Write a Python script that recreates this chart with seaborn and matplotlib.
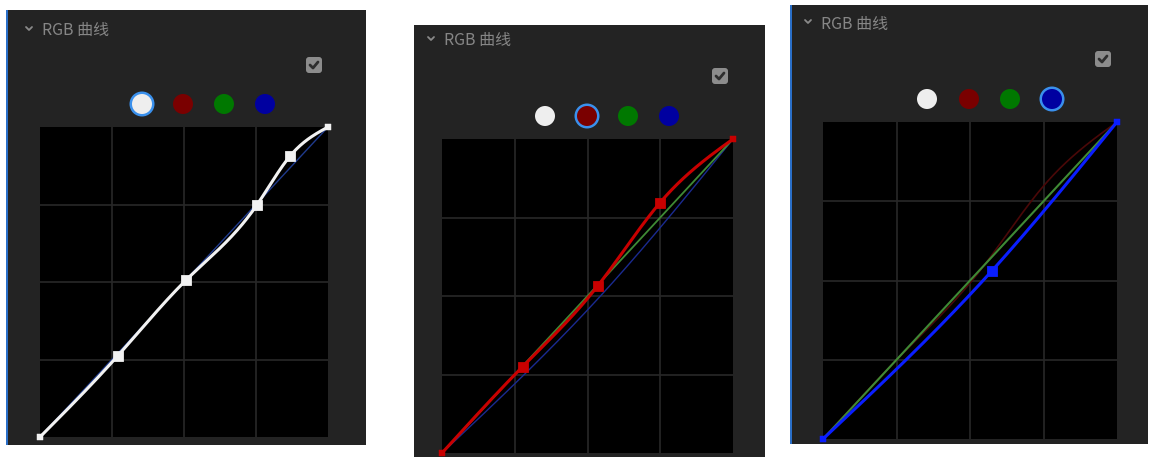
import numpy as np
import pandas as pd
import matplotlib
matplotlib.use("Agg")
import matplotlib.pyplot as plt
from matplotlib.patches import Rectangle, FancyBboxPatch, Circle
import seaborn as sns

# Puntos de control de cada curva (0..1)
master_x = [0.0, 0.270, 0.507, 0.752, 0.868, 1.0]
master_y = [0.0, 0.262, 0.506, 0.747, 0.906, 1.0]
red_x = [0.0, 0.277, 0.535, 0.749, 1.0]
red_y = [0.0, 0.275, 0.532, 0.797, 1.0]
green_x = [0.0, 1.0]
green_y = [0.0, 1.0]
blue_x = [0.0, 0.574, 1.0]
blue_y = [0.0, 0.530, 1.0]

titulo = "RGB 曲线"
colores_canal = ["#eeeeee", "#7a0000", "#007800", "#0000a0"]

sns.set_theme(style="dark")
plt.rcParams['font.family'] = ['Noto Sans CJK SC', 'DejaVu Sans']

W, H = 1150, 457


def spline(xs, ys, n=300):
    # spline cubico natural por los puntos de control
    xs = np.asarray(xs, float)
    ys = np.asarray(ys, float)
    if len(xs) == 2:
        t = np.linspace(xs[0], xs[-1], n)
        return t, np.interp(t, xs, ys)
    h = np.diff(xs)
    k = len(xs)
    A = np.zeros((k, k))
    b = np.zeros(k)
    A[0, 0] = A[-1, -1] = 1
    for i in range(1, k - 1):
        A[i, i - 1] = h[i - 1]
        A[i, i] = 2 * (h[i - 1] + h[i])
        A[i, i + 1] = h[i]
        b[i] = 6 * ((ys[i + 1] - ys[i]) / h[i] - (ys[i] - ys[i - 1]) / h[i - 1])
    M = np.linalg.solve(A, b)
    t = np.linspace(xs[0], xs[-1], n)
    idx = np.clip(np.searchsorted(xs, t) - 1, 0, k - 2)
    x0, x1 = xs[idx], xs[idx + 1]
    hh = x1 - x0
    a = (x1 - t) / hh
    c = (t - x0) / hh
    yv = (a * ys[idx] + c * ys[idx + 1]
          + ((a ** 3 - a) * M[idx] + (c ** 3 - c) * M[idx + 1]) * hh ** 2 / 6)
    return t, yv


def curva_df(xs, ys):
    t, yv = spline(xs, ys)
    return pd.DataFrame({'x': t, 'y': yv})


fig = plt.figure(figsize=(W / 100, H / 100), dpi=100, facecolor='white')

# capa de fondo en coordenadas de pixel
bg = fig.add_axes([0, 0, 1, 1], zorder=0)
bg.set_xlim(0, W)
bg.set_ylim(H, 0)
bg.axis('off')

paneles = [
    dict(box=(6, 10, 366, 445), borde=True, tit=(29, 30), chk=(305, 56), cy=104,
         cx=[142, 183, 224, 265], sel=0, plot=(40, 127, 328, 437)),
    dict(box=(414, 25, 765, 457), borde=False, tit=(431, 40), chk=(711, 67), cy=116,
         cx=[545, 587, 628, 669], sel=1, plot=(442, 139, 733, 453)),
    dict(box=(790, 5, 1148, 444), borde=True, tit=(808, 23), chk=(1094, 50), cy=99,
         cx=[927, 969, 1010, 1052], sel=3, plot=(823, 122, 1117, 439)),
]

for p in paneles:
    x0, y0, x1, y1 = p['box']
    bg.add_patch(Rectangle((x0, y0), x1 - x0, y1 - y0, color='#232323', lw=0))
    if p['borde']:
        bg.add_patch(Rectangle((x0, y0), 2, y1 - y0, color='#2a6fc8', lw=0))
    tx, ty = p['tit']
    bg.plot([tx - 3, tx, tx + 3], [ty - 3, ty, ty - 3], color='#8a8a8a', lw=1.3)
    bg.text(tx + 13, ty + 1, titulo, color='#868686', fontsize=11.5,
            va='center', ha='left')
    cxk, cyk = p['chk']
    bg.add_patch(FancyBboxPatch((cxk + 1, cyk + 1), 16, 16,
                                boxstyle='round,pad=0,rounding_size=3',
                                color='#8c8c8c', lw=0))
    bg.plot([cxk + 5, cxk + 8, cxk + 13], [cyk + 9, cyk + 12, cyk + 6],
            color='#2e2e2e', lw=2)
    for i, (xc, col) in enumerate(zip(p['cx'], colores_canal)):
        if i == p['sel']:
            bg.add_patch(Circle((xc, p['cy']), 12.5, color='#3a90ec', lw=0))
        bg.add_patch(Circle((xc, p['cy']), 10, color=col, lw=0))

# areas de las curvas
config = [
    (curva_df(master_x, master_y), '#f2f2f2', (master_x, master_y),
     [(curva_df([0, 1], [0, 1]), '#1f3a8c', 1.0)]),
    (curva_df(red_x, red_y), '#c80000', (red_x, red_y),
     [(curva_df(blue_x, blue_y), '#1a2a90', 1.0),
      (curva_df(green_x, green_y), '#3f8a35', 1.3)]),
    (curva_df(blue_x, blue_y), '#0a1eff', (blue_x, blue_y),
     [(curva_df(red_x, red_y), '#4a0808', 1.2),
      (curva_df(green_x, green_y), '#3f8a35', 1.5)]),
]

for p, (df, col, (px, py), fondo) in zip(paneles, config):
    l, t, r, b = p['plot']
    ax = fig.add_axes([l / W, (H - b) / H, (r - l) / W, (b - t) / H], zorder=2)
    ax.set_facecolor('black')
    for g in [0.25, 0.5, 0.75]:
        ax.axvline(g, color='#282828', lw=1.2, zorder=0)
        ax.axhline(g, color='#282828', lw=1.2, zorder=0)
    for dfb, cb, lwb in fondo:
        sns.lineplot(data=dfb, x='x', y='y', color=cb, lw=lwb, ax=ax,
                     sort=False, zorder=2)
    sns.lineplot(data=df, x='x', y='y', color=col, lw=2.2, ax=ax,
                 sort=False, zorder=3)
    pts = pd.DataFrame({'x': px, 'y': py})
    sns.scatterplot(data=pts.iloc[1:-1], x='x', y='y', marker='s', s=52,
                    color=col, edgecolor=col, ax=ax, zorder=4)
    sns.scatterplot(data=pts.iloc[[0, -1]], x='x', y='y', marker='s', s=18,
                    color=col, edgecolor=col, ax=ax, zorder=4, clip_on=False)
    ax.set_xlim(0, 1)
    ax.set_ylim(0, 1)
    ax.set_xticks([])
    ax.set_yticks([])
    ax.set_xlabel('')
    ax.set_ylabel('')
    for s in ax.spines.values():
        s.set_visible(False)

fig.savefig('out.png', dpi=100, facecolor='white')
